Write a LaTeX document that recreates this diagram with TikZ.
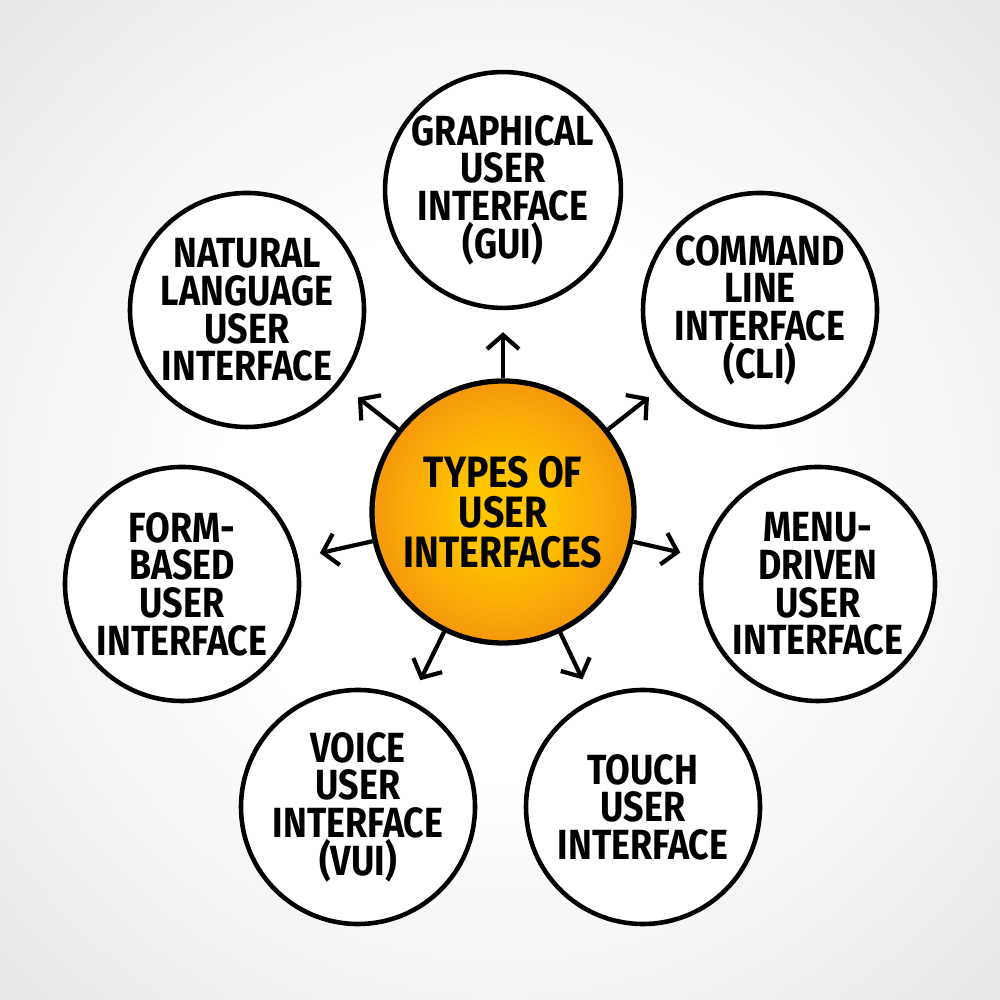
\documentclass[tikz,border=0pt]{standalone}
\usepackage{fontspec}
\setmainfont{Fira Sans}[FakeStretch=0.85]
\usetikzlibrary{arrows.meta,positioning}
\definecolor{uiorange}{RGB}{245,152,12}
\definecolor{uiyellow}{RGB}{255,198,0}
\definecolor{uibg}{RGB}{230,230,230}
\pgfdeclareradialshading{hubshade}{\pgfpoint{0bp}{0bp}}{color(0bp)=(uiyellow); color(8bp)=(uiyellow); color(25bp)=(uiorange); color(50bp)=(uiorange)}
\pgfdeclareradialshading{bgshade}{\pgfpoint{0bp}{0bp}}{color(0bp)=(white); color(14bp)=(white); color(36bp)=(uibg); color(50bp)=(uibg)}
\tikzset{
  hubcircle/.style={circle, draw=black, line width=1.5pt, shading=hubshade, minimum size=2.62cm, inner sep=0pt, align=center, font=\bfseries\fontsize{12.5}{11.4}\selectfont},
  typecircle/.style={circle, draw=black, line width=1.3pt, fill=white, minimum size=2.34cm, inner sep=0pt, align=center, font=\bfseries\fontsize{12}{10.7}\selectfont},
  spoke/.style={line width=1.2pt, -{Straight Barb[length=1.4mm,width=3.2mm]}, shorten >=0.22cm}
}

\begin{document}
\begin{tikzpicture}
  \shade[shading=bgshade] (0,0) rectangle (10,10);
  \useasboundingbox (0,0) rectangle (10,10);
  % centre and the seven kinds around it
  \node[hubcircle] (hub) at (5.03,4.88) {TYPES OF\\USER\\INTERFACES};
  \node[typecircle] (gui) at (5.03,8.10) {GRAPHICAL\\USER\\INTERFACE\\(GUI)};
  \node[typecircle] (cli) at (7.60,6.90) {COMMAND\\LINE\\INTERFACE\\(CLI)};
  \node[typecircle] (menu) at (8.18,4.16) {MENU-\\DRIVEN\\USER\\INTERFACE};
  \node[typecircle] (touch) at (6.43,1.93) {TOUCH\\USER\\INTERFACE};
  \node[typecircle] (voice) at (3.58,1.93) {VOICE\\USER\\INTERFACE\\(VUI)};
  \node[typecircle] (form) at (1.82,4.16) {FORM-\\BASED\\USER\\INTERFACE};
  \node[typecircle] (natural) at (2.47,6.90) {NATURAL\\LANGUAGE\\USER\\INTERFACE};
  % arrows out of the centre
  \draw[spoke] (hub) -- (gui);
  \draw[spoke] (hub) -- (cli);
  \draw[spoke] (hub) -- (menu);
  \draw[spoke] (hub) -- (touch);
  \draw[spoke] (hub) -- (voice);
  \draw[spoke] (hub) -- (form);
  \draw[spoke] (hub) -- (natural);
\end{tikzpicture}
\end{document}
